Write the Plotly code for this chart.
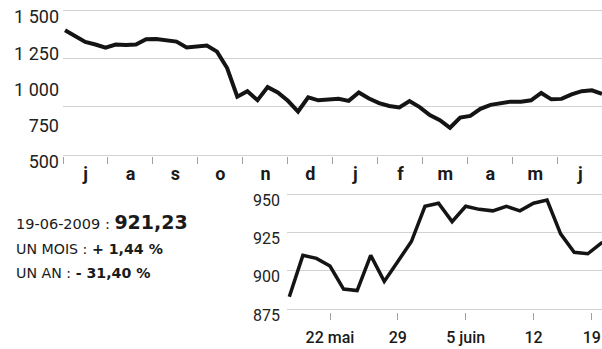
import plotly.graph_objects as go

W, H = 602, 349

# ---- data ----
weekly_close = [1360, 1318, 1280, 1262, 1240, 1262, 1258, 1262, 1298, 1300, 1293, 1282,
                1242, 1252, 1255, 1213, 1100, 902, 940, 878, 968, 932, 874, 800,
                897, 877, 880, 888, 873, 931, 890, 858, 838, 828, 872, 830,
                775, 740, 688, 758, 770, 818, 846, 860, 868, 868, 877, 928,
                884, 887, 918, 940, 946, 921]
month_labels = ["j", "a", "s", "o", "n", "d", "j", "f", "m", "a", "m", "j"]
top_ytick_vals = [500, 750, 1000, 1250, 1500]
top_ytick_text = ["500", "750", "1 000", "1 250", "1 500"]

daily_close = [883, 910, 908, 903, 888, 887, 910, 893, 906, 919, 942, 944, 932,
               942, 940, 939, 942, 939, 944, 946, 924, 912, 911, 918, 921]
daily_tick_idx = [3, 8, 13, 18, 22.3]
daily_tick_text = ["22 mai", "29", "5 juin", "12", "19"]
bottom_ytick_vals = [875, 900, 925, 950]

# ---- layout helpers ----
def ydom(px_top, px_bottom):
    return [1 - px_bottom / H, 1 - px_top / H]

FONT = "Roboto"
ANN_FONT = "DejaVu Sans"
LINE = "#141414"
GRID = "#d2d2d2"
TXT = "#222222"

month_w = 4.44
month_start = -0.2
bounds = [month_start + month_w * k for k in range(len(month_labels))]
mids = [b + month_w / 2 for b in bounds]

fig = go.Figure()
fig.add_trace(go.Scatter(x=list(range(len(weekly_close))), y=weekly_close, mode="lines",
                         line=dict(color=LINE, width=4), xaxis="x", yaxis="y",
                         hoverinfo="skip", showlegend=False))
fig.add_trace(go.Scatter(x=[None], y=[None], mode="lines", xaxis="x", yaxis="y3",
                         hoverinfo="skip", showlegend=False))
fig.add_trace(go.Scatter(x=list(range(len(daily_close))), y=daily_close, mode="lines",
                         line=dict(color=LINE, width=3.5), xaxis="x2", yaxis="y2",
                         hoverinfo="skip", showlegend=False))

top_scale = 0.145  # px per unit
top_range = [490, 1510]
top_dom = ydom(155 - (top_range[1] - 500) * top_scale, 155 + (500 - top_range[0]) * top_scale)
bot_scale = 115 / 75
bot_range = [873, 952]
bot_dom = ydom(309 - (bot_range[1] - 875) * bot_scale, 309 + (875 - bot_range[0]) * bot_scale)

third = [500 + 1000 * k / 3 for k in range(4)]

fig.update_layout(
    width=W, height=H,
    margin=dict(l=0, r=0, t=0, b=0, autoexpand=False),
    paper_bgcolor="white", plot_bgcolor="white",
    font=dict(family=FONT, color=TXT),
    xaxis=dict(domain=[63 / W, 1], range=[-0.2, 53], anchor="y", automargin=False,
               tickmode="array", tickvals=mids, ticktext=month_labels,
               ticks="", showgrid=False, showline=False, zeroline=False,
               tickfont=dict(size=18, weight="bold", color="#1a1a1a"),
               ticklabelstandoff=5,
               minor=dict(tickmode="array", tickvals=bounds, ticks="outside",
                          ticklen=7, tickwidth=1, tickcolor="#a0a0a0", showgrid=False)),
    yaxis=dict(domain=top_dom, range=top_range, anchor="x", automargin=False,
               tickmode="array", tickvals=third, showticklabels=False,
               ticks="", showgrid=True, gridcolor=GRID, gridwidth=1,
               zeroline=False, showline=False),
    yaxis3=dict(overlaying="y", anchor="x", side="left", range=top_range, automargin=False,
                tickmode="array", tickvals=top_ytick_vals, ticktext=top_ytick_text,
                ticks="", showgrid=False, zeroline=False, showline=False,
                tickfont=dict(size=18, color=TXT), ticklabelshift=7,
                ticklabelstandoff=3, ticklabeloverflow="allow"),
    xaxis2=dict(domain=[287 / W, 1], range=[-0.17, 23.05], anchor="y2", automargin=False,
                tickmode="array", tickvals=daily_tick_idx, ticktext=daily_tick_text,
                ticks="outside", ticklen=7, tickcolor="#a0a0a0",
                showgrid=False, showline=False, zeroline=False,
                tickfont=dict(size=16, weight=500, color="#1a1a1a"),
                ticklabelstandoff=4, ticklabeloverflow="allow"),
    yaxis2=dict(domain=bot_dom, range=bot_range, anchor="x2", automargin=False,
                tickmode="array", tickvals=bottom_ytick_vals,
                ticks="", showgrid=True, gridcolor=GRID, gridwidth=1,
                zeroline=False, showline=False,
                tickfont=dict(size=16, color=TXT), ticklabelshift=6,
                ticklabelstandoff=6, ticklabeloverflow="allow"),
)

def ann(text, px_x, px_y, size):
    fig.add_annotation(text=text, x=px_x / W, y=1 - px_y / H, xref="paper", yref="paper",
                       xanchor="left", yanchor="middle", showarrow=False,
                       font=dict(family=ANN_FONT, size=size, color="#1a1a1a"))

ann("19-06-2009 : <span style='font-size:19px'><b>921,23</b></span>", 14, 222, 14.5)
ann("UN MOIS : <b>+ 1,44 %</b>", 14, 249, 14.2)
ann("UN AN : <b>- 31,40 %</b>", 14, 273, 14.2)

fig.write_html("out.html")
